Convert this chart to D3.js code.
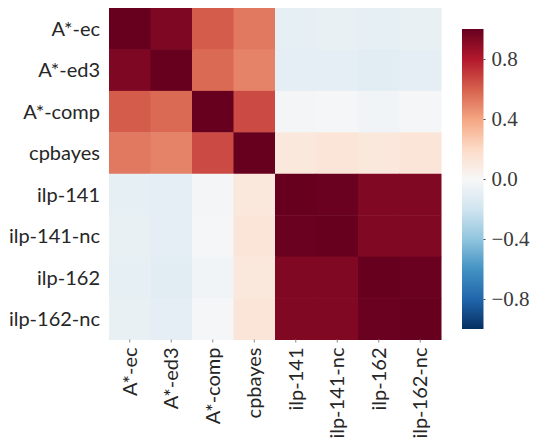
<!DOCTYPE html>
<html>
<head>
<meta charset="utf-8">
<script src="https://cdn.jsdelivr.net/npm/d3@7/dist/d3.min.js"></script>
<style>
  body { margin: 0; background: #fff; }
  svg { display: block; }
</style>
</head>
<body>
<svg id="chart" width="543" height="442"></svg>
<script>
// Methods compared (rows and columns of the correlation matrix)
const methods = ["A*-ec", "A*-ed3", "A*-comp", "cpbayes", "ilp-141", "ilp-141-nc", "ilp-162", "ilp-162-nc"];

// Pairwise correlation between methods (symmetric)
const rowAec    = [ 1.00,  0.94,  0.61,  0.53, -0.09, -0.08, -0.09, -0.08];
const rowAed3   = [ 0.94,  1.00,  0.57,  0.50, -0.10, -0.10, -0.11, -0.10];
const rowAcomp  = [ 0.61,  0.57,  1.00,  0.66, -0.02, -0.01, -0.03, -0.01];
const rowCpb    = [ 0.53,  0.50,  0.66,  1.00,  0.11,  0.13,  0.11,  0.13];
const rowIlp141 = [-0.09, -0.10, -0.02,  0.11,  1.00,  0.99,  0.93,  0.93];
const rowIlp141nc = [-0.08, -0.10, -0.01, 0.13, 0.99,  1.00,  0.93,  0.93];
const rowIlp162 = [-0.09, -0.11, -0.03,  0.11,  0.93,  0.93,  1.00,  0.99];
const rowIlp162nc = [-0.08, -0.10, -0.01, 0.13, 0.93,  0.93,  0.99,  1.00];
const corr = [rowAec, rowAed3, rowAcomp, rowCpb, rowIlp141, rowIlp141nc, rowIlp162, rowIlp162nc];

// Colour bar ticks
const colorbarTicks = [-0.8, -0.4, 0.0, 0.4, 0.8];

// Diverging RdBu palette (blue = -1 ... red = +1)
const rdbuStops = ["#053061", "#2166ac", "#4393c3", "#92c5de", "#d1e5f0", "#f7f7f7",
                   "#fddbc7", "#f4a582", "#d6604d", "#b2182b", "#67001f"];

const svg = d3.select("#chart");
const textColor = "#262626";
const labelFont = "Lato, 'Open Sans', sans-serif";
const numFont = "'Liberation Serif', 'DejaVu Serif', serif";

const color = d3.scaleLinear()
  .domain(d3.range(rdbuStops.length).map(i => -1 + 2 * i / (rdbuStops.length - 1)))
  .range(rdbuStops)
  .interpolate(d3.interpolateRgb)
  .clamp(true);

// Heatmap geometry
const hm = { left: 109, right: 441, top: 8, bottom: 339.5 };
const x = d3.scaleBand().domain(methods).range([hm.left, hm.right]);
const y = d3.scaleBand().domain(methods).range([hm.top, hm.bottom]);

const cells = [];
corr.forEach((row, i) => row.forEach((v, j) => cells.push({ r: methods[i], c: methods[j], v })));

svg.append("g").selectAll("rect")
  .data(cells)
  .join("rect")
  .attr("x", d => x(d.c))
  .attr("y", d => y(d.r))
  .attr("width", x.bandwidth() + 0.5)
  .attr("height", y.bandwidth() + 0.5)
  .attr("fill", d => color(d.v));

// Row labels
svg.append("g").selectAll("text")
  .data(methods)
  .join("text")
  .attr("x", 100)
  .attr("y", d => y(d) + y.bandwidth() / 2)
  .attr("dy", "0.36em")
  .attr("text-anchor", "end")
  .style("font-family", labelFont)
  .style("font-size", "20px")
  .attr("fill", textColor)
  .text(d => d);

// Column ticks and rotated labels
const xAxis = svg.append("g");
xAxis.selectAll("line")
  .data(methods)
  .join("line")
  .attr("x1", d => x(d) + x.bandwidth() / 2)
  .attr("x2", d => x(d) + x.bandwidth() / 2)
  .attr("y1", hm.bottom)
  .attr("y2", hm.bottom + 3)
  .attr("stroke", "#888")
  .attr("stroke-width", 1);

xAxis.selectAll("text")
  .data(methods)
  .join("text")
  .attr("transform", d => `translate(${x(d) + x.bandwidth() / 2},${hm.bottom + 8}) rotate(-90)`)
  .attr("dy", "0.36em")
  .attr("text-anchor", "end")
  .style("font-family", labelFont)
  .style("font-size", "20px")
  .attr("fill", textColor)
  .text(d => d);

// Colour bar
const cb = { left: 462, width: 21.5, top: 29, bottom: 329 };
const cbScale = d3.scaleLinear().domain([-1, 1]).range([cb.bottom, cb.top]);

const defs = svg.append("defs");
const grad = defs.append("linearGradient")
  .attr("id", "cbGrad")
  .attr("x1", 0).attr("y1", 1).attr("x2", 0).attr("y2", 0);
grad.selectAll("stop")
  .data(rdbuStops)
  .join("stop")
  .attr("offset", (d, i) => i / (rdbuStops.length - 1))
  .attr("stop-color", d => d);

svg.append("rect")
  .attr("x", cb.left)
  .attr("y", cb.top)
  .attr("width", cb.width)
  .attr("height", cb.bottom - cb.top)
  .attr("fill", "url(#cbGrad)");

const cbAxis = d3.axisRight(cbScale)
  .tickValues(colorbarTicks)
  .tickSize(2)
  .tickPadding(6)
  .tickFormat(d => d3.format(".1f")(d).replace("-", "\u2212"));

const cbG = svg.append("g")
  .attr("transform", `translate(${cb.left + cb.width},0)`)
  .call(cbAxis)
  .attr("font-family", null)
  .attr("font-size", null);
cbG.select(".domain").remove();
cbG.selectAll(".tick line").attr("stroke", "#444");
cbG.selectAll(".tick text")
  .style("font-family", numFont)
  .style("font-size", "21px")
  .attr("fill", "#3a3a3a");
</script>
</body>
</html>
